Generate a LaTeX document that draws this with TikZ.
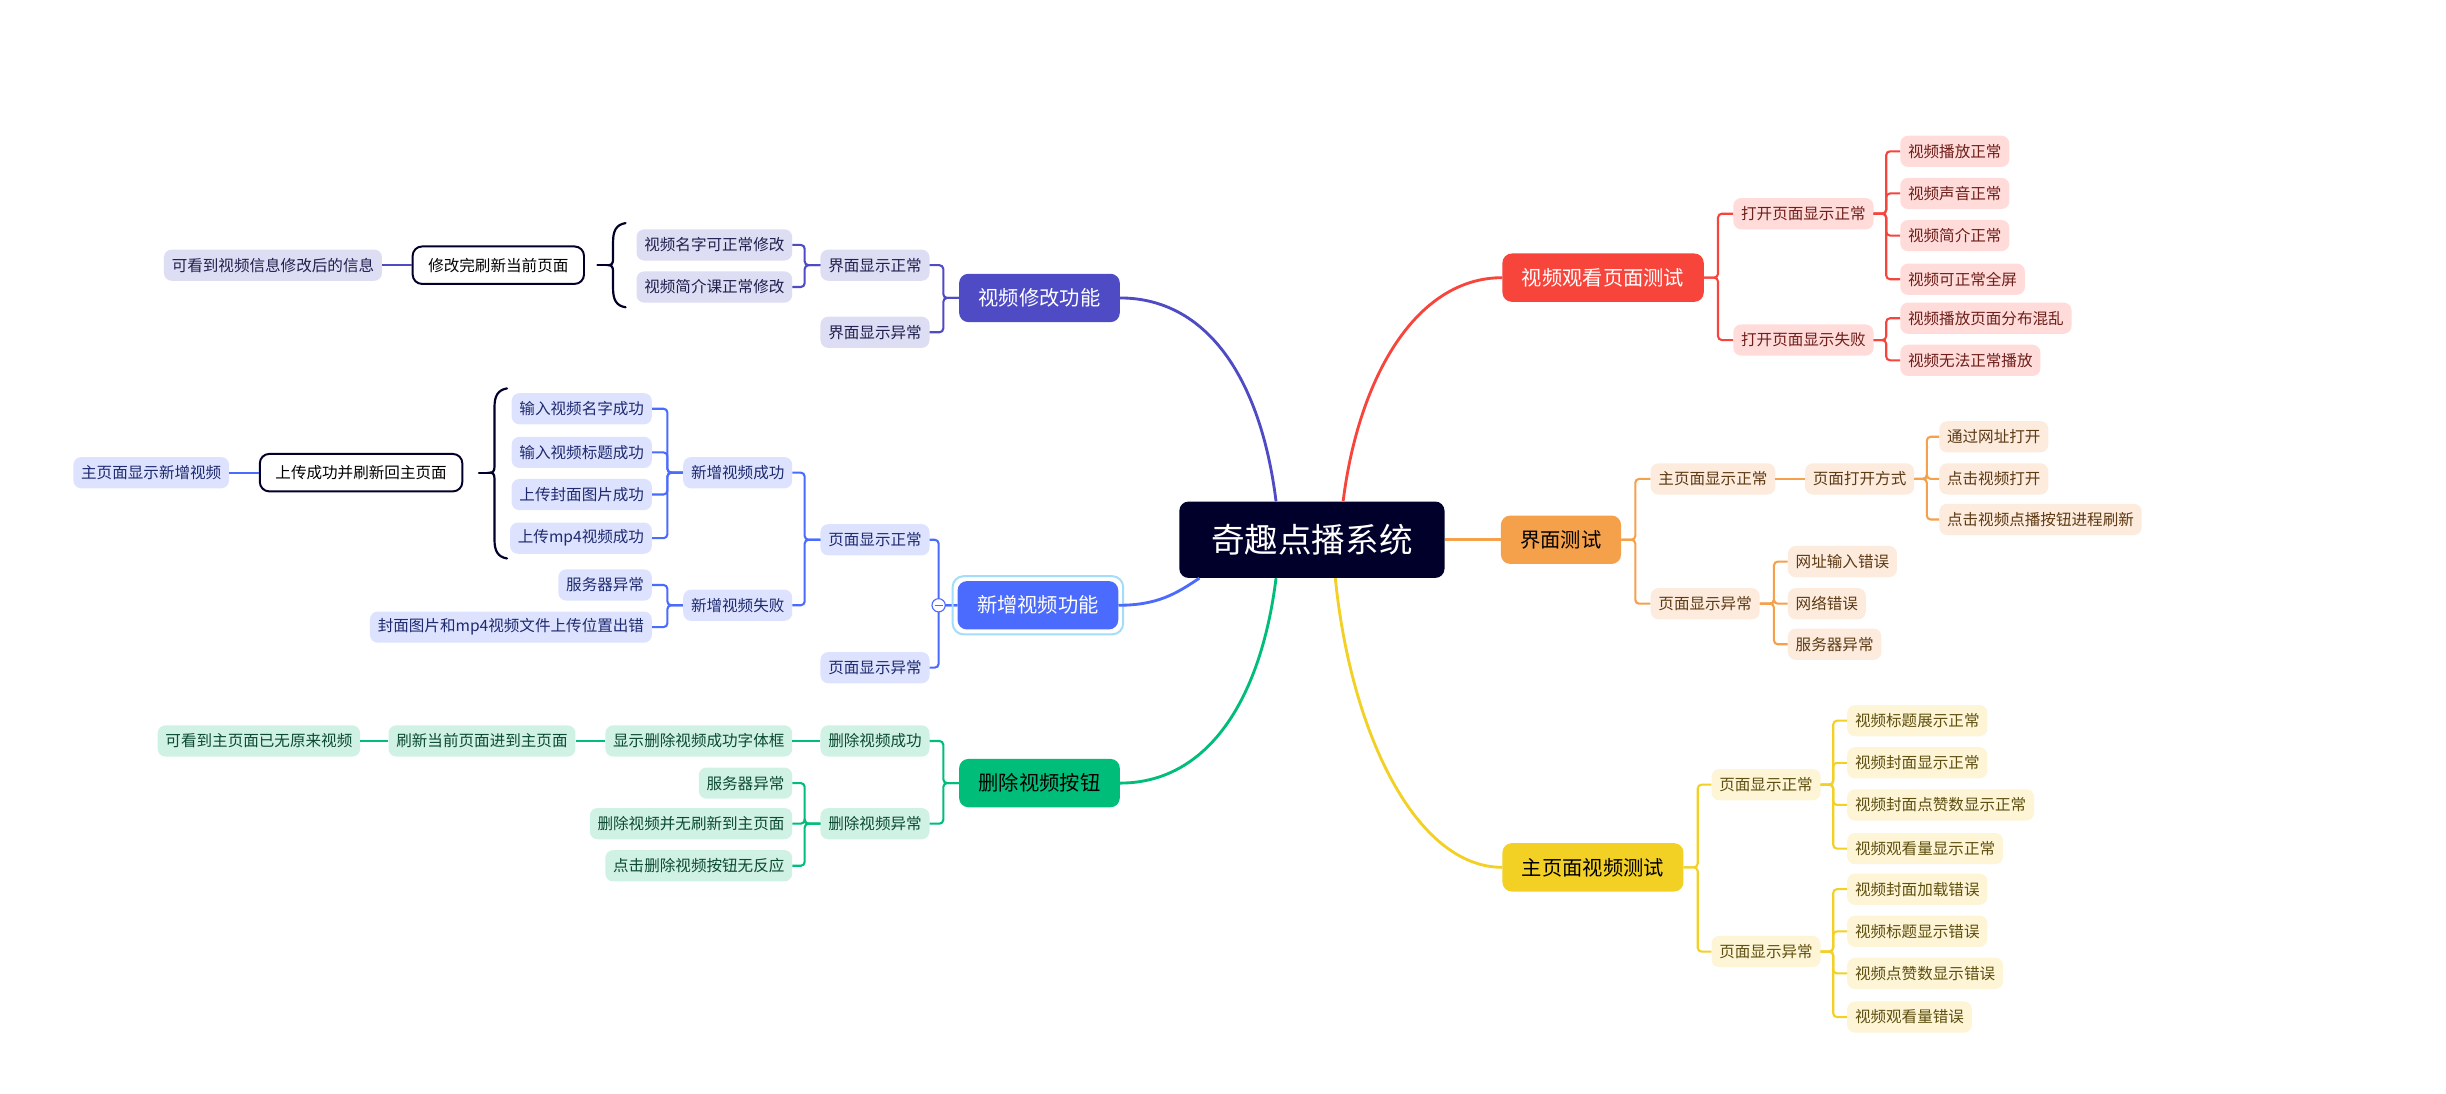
\documentclass[tikz,border=0pt]{standalone}
\usepackage{fontspec}
\newfontfamily\cjk{Noto Sans CJK SC}
\usetikzlibrary{calc}
\definecolor{cRoot}{HTML}{00002A}
\definecolor{cR}{HTML}{F8453C}\definecolor{cRL}{HTML}{FFDBDA}\definecolor{cRT}{HTML}{6E1F1A}
\definecolor{cO}{HTML}{F5A04A}\definecolor{cOL}{HTML}{FDEBDD}\definecolor{cOT}{HTML}{5C3A14}
\definecolor{cY}{HTML}{F2D024}\definecolor{cYL}{HTML}{FDF5D5}\definecolor{cYT}{HTML}{5E4F10}
\definecolor{cP}{HTML}{4E4BC4}\definecolor{cPL}{HTML}{DDDDF3}\definecolor{cPT}{HTML}{20204E}
\definecolor{cB}{HTML}{4B6BFF}\definecolor{cBL}{HTML}{DDE3FF}\definecolor{cBT}{HTML}{1E2A6E}
\definecolor{cG}{HTML}{00BE7A}\definecolor{cGL}{HTML}{CFF2E5}\definecolor{cGT}{HTML}{0C4A32}
\definecolor{cHL}{HTML}{A3DDF9}
\tikzset{
 base/.style={font=\cjk\fontsize{14.2}{17}\selectfont, inner xsep=2.5mm, inner ysep=0pt, minimum height=10mm, rounded corners=2.5mm},
 leaf/.style={base, fill=c#1L, text=c#1T},
 framed/.style={base, fill=white, draw=cRoot, line width=1.8pt, text=black, inner xsep=5mm, minimum height=12mm, rounded corners=3mm},
 br/.style={font=\cjk\fontsize{18.5}{22}\selectfont, inner xsep=6.25mm, inner ysep=0pt, minimum height=15.5mm, rounded corners=3mm, fill=c#1},
 ln/.style={draw=c#1, line width=1.9pt, rounded corners=3.5pt},
 curve/.style={draw=c#1, line width=2.6pt},
 bracestyle/.style={draw=cRoot, line width=2pt, line cap=round},
}
\newcommand\mybrace[4]{%
 \draw[bracestyle] (#1,#2) .. controls (#1-6,#2+1) and (#1-8,#2+5) .. (#1-8,#2+12) -- (#1-8,#4-4) .. controls (#1-8,#4-1) and (#1-9,#4) .. (#1-11,#4) .. controls (#1-9,#4) and (#1-8,#4+1) .. (#1-8,#4+4) -- (#1-8,#3-12) .. controls (#1-8,#3-5) and (#1-6,#3-1) .. (#1,#3);
 \draw[bracestyle] (#1-11,#4) -- (#1-18,#4);
}
\begin{document}
\begin{tikzpicture}[x=0.5mm,y=-0.5mm]
\useasboundingbox[fill=white] (0,0) rectangle (1568,701);

% root
\node[fill=cRoot, text=white, font=\cjk\fontsize{30.6}{34}\selectfont, minimum width=85mm, minimum height=24.5mm, rounded corners=3mm, inner sep=0pt] (root) at (841,346) {奇趣点播系统};

% ===== right: red
\node[br=R, text=white, anchor=west] (rb) at (963,178) {视频观看页面测试};
\node[leaf=R, anchor=west] (r1) at (1111,137) {打开页面显示正常};
\node[leaf=R, anchor=west] (r2) at (1111,218) {打开页面显示失败};
\node[leaf=R, anchor=west] (r11) at (1218,97) {视频播放正常};
\node[leaf=R, anchor=west] (r12) at (1218,124) {视频声音正常};
\node[leaf=R, anchor=west] (r13) at (1218,151) {视频简介正常};
\node[leaf=R, anchor=west] (r14) at (1218,179) {视频可正常全屏};
\node[leaf=R, anchor=west] (r21) at (1218,204) {视频播放页面分布混乱};
\node[leaf=R, anchor=west] (r22) at (1218,231) {视频无法正常播放};
\foreach \c in {r1,r2} \draw[ln=R] (rb.east) -- ++(9,0) |- (\c.west);
\foreach \c in {r11,r12,r13,r14} \draw[ln=R] (r1.east) -- ++(8,0) |- (\c.west);
\foreach \c in {r21,r22} \draw[ln=R] (r2.east) -- ++(8,0) |- (\c.west);

% ===== right: orange
\node[br=O, text=black, anchor=west] (ob) at (962,346) {界面测试};
\node[leaf=O, anchor=west] (o1) at (1058,307) {主页面显示正常};
\node[leaf=O, anchor=west] (o11) at (1157,307) {页面打开方式};
\node[leaf=O, anchor=west] (o111) at (1243,280) {通过网址打开};
\node[leaf=O, anchor=west] (o112) at (1243,307) {点击视频打开};
\node[leaf=O, anchor=west] (o113) at (1243,333) {点击视频点播按钮进程刷新};
\node[leaf=O, anchor=west] (o2) at (1058,387) {页面显示异常};
\node[leaf=O, anchor=west] (o21) at (1146,360) {网址输入错误};
\node[leaf=O, anchor=west] (o22) at (1146,387) {网络错误};
\node[leaf=O, anchor=west] (o23) at (1146,413) {服务器异常};
\foreach \c in {o1,o2} \draw[ln=O] (ob.east) -- ++(9,0) |- (\c.west);
\draw[ln=O] (o1.east) -- (o11.west);
\foreach \c in {o111,o112,o113} \draw[ln=O] (o11.east) -- ++(8,0) |- (\c.west);
\foreach \c in {o21,o22,o23} \draw[ln=O] (o2.east) -- ++(9,0) |- (\c.west);

% ===== right: yellow
\node[br=Y, text=black, anchor=west] (yb) at (963,556) {主页面视频测试};
\node[leaf=Y, anchor=west] (y1) at (1097,503) {页面显示正常};
\node[leaf=Y, anchor=west] (y2) at (1097,610) {页面显示异常};
\node[leaf=Y, anchor=west] (y11) at (1184,462) {视频标题展示正常};
\node[leaf=Y, anchor=west] (y12) at (1184,489) {视频封面显示正常};
\node[leaf=Y, anchor=west] (y13) at (1184,516) {视频封面点赞数显示正常};
\node[leaf=Y, anchor=west] (y14) at (1184,544) {视频观看量显示正常};
\node[leaf=Y, anchor=west] (y21) at (1184,570) {视频封面加载错误};
\node[leaf=Y, anchor=west] (y22) at (1184,597) {视频标题显示错误};
\node[leaf=Y, anchor=west] (y23) at (1184,624) {视频点赞数显示错误};
\node[leaf=Y, anchor=west] (y24) at (1184,652) {视频观看量错误};
\foreach \c in {y1,y2} \draw[ln=Y] (yb.east) -- ++(9,0) |- (\c.west);
\foreach \c in {y11,y12,y13,y14} \draw[ln=Y] (y1.east) -- ++(8,0) |- (\c.west);
\foreach \c in {y21,y22,y23,y24} \draw[ln=Y] (y2.east) -- ++(8,0) |- (\c.west);

% ===== left: purple
\node[br=P, text=white, anchor=east] (pb) at (718,191) {视频修改功能};
\node[leaf=P, anchor=east] (p1) at (596,170) {界面显示正常};
\node[leaf=P, anchor=east] (p2) at (596,213) {界面显示异常};
\node[leaf=P, anchor=east] (p11) at (508,157) {视频名字可正常修改};
\node[leaf=P, anchor=east] (p12) at (508,184) {视频简介课正常修改};
\node[framed, anchor=east] (pf) at (375,170) {修改完刷新当前页面};
\node[leaf=P, anchor=east] (pff) at (245,170) {可看到视频信息修改后的信息};
\foreach \c in {p1,p2} \draw[ln=P] (pb.west) -- ++(-10,0) |- (\c.east);
\foreach \c in {p11,p12} \draw[ln=P] (p1.west) -- ++(-10,0) |- (\c.east);
\draw[ln=P] (pf.west) -- (pff.east);
\mybrace{401}{143}{197}{170}

% ===== left: blue
\node[br=B, text=white, anchor=east] (bb) at (717,388) {新增视频功能};
\node[leaf=B, anchor=east] (b1) at (596,346) {页面显示正常};
\node[leaf=B, anchor=east] (b2) at (596,428) {页面显示异常};
\node[leaf=B, anchor=east] (b11) at (508,303) {新增视频成功};
\node[leaf=B, anchor=east] (b12) at (508,388) {新增视频失败};
\node[leaf=B, anchor=east] (b111) at (418,262) {输入视频名字成功};
\node[leaf=B, anchor=east] (b112) at (418,290) {输入视频标题成功};
\node[leaf=B, anchor=east] (b113) at (418,317) {上传封面图片成功};
\node[leaf=B, anchor=east] (b114) at (418,345) {上传mp4视频成功};
\node[leaf=B, anchor=east] (b121) at (418,375) {服务器异常};
\node[leaf=B, anchor=east] (b122) at (418,402) {封面图片和mp4视频文件上传位置出错};
\node[framed, anchor=east] (bf) at (297,303) {上传成功并刷新回主页面};
\node[leaf=B, anchor=east] (bff) at (147,303) {主页面显示新增视频};
\foreach \c in {b1,b2} \draw[ln=B] (bb.west) -- ++(-12,0) |- (\c.east);
\foreach \c in {b11,b12} \draw[ln=B] (b1.west) -- ++(-10,0) |- (\c.east);
\foreach \c in {b111,b112,b113,b114} \draw[ln=B] (b11.west) -- ++(-10,0) |- (\c.east);
\foreach \c in {b121,b122} \draw[ln=B] (b12.west) -- ++(-10,0) |- (\c.east);
\draw[ln=B] (bf.west) -- (bff.east);
\mybrace{325}{249}{358}{303}
\draw[draw=cHL, line width=1.8pt, rounded corners=3.5mm] ($(bb.south west)+(-3,3)$) rectangle ($(bb.north east)+(3,-3)$);
\node[circle, draw=cB, fill=white, line width=1pt, minimum size=4.25mm, inner sep=0pt] (col) at ($(bb.west)+(-12,0)$) {};
\draw[cB, line width=1pt] ($(col.west)+(2,0)$) -- ($(col.east)+(-2,0)$);

% ===== left: green
\node[br=G, text=black, anchor=east] (gb) at (718,502) {删除视频按钮};
\node[leaf=G, anchor=east] (g1) at (596,475) {删除视频成功};
\node[leaf=G, anchor=east] (g2) at (596,528) {删除视频异常};
\node[leaf=G, anchor=east] (g11) at (508,475) {显示删除视频成功字体框};
\node[leaf=G, anchor=east] (g111) at (369,475) {刷新当前页面进到主页面};
\node[leaf=G, anchor=east] (g1111) at (231,475) {可看到主页面已无原来视频};
\node[leaf=G, anchor=east] (g21) at (508,502) {服务器异常};
\node[leaf=G, anchor=east] (g22) at (508,528) {删除视频并无刷新到主页面};
\node[leaf=G, anchor=east] (g23) at (508,555) {点击删除视频按钮无反应};
\foreach \c in {g1,g2} \draw[ln=G] (gb.west) -- ++(-10,0) |- (\c.east);
\draw[ln=G] (g1.west) -- (g11.east);
\draw[ln=G] (g11.west) -- (g111.east);
\draw[ln=G] (g111.west) -- (g1111.east);
\foreach \c in {g21,g22,g23} \draw[ln=G] (g2.west) -- ++(-10,0) |- (\c.east);

% ===== main curves
\draw[curve=R] ($(root.north)+(20,0)$) .. controls +(10,-80) and +(-55,0) .. (rb.west);
\draw[curve=O] (root.east) -- (ob.west);
\draw[curve=Y] ($(root.south)+(15,0)$) .. controls +(10,100) and +(-55,0) .. (yb.west);
\draw[curve=P] ($(root.north)+(-23,0)$) .. controls +(-10,-80) and +(55,0) .. (pb.east);
\draw[curve=G] ($(root.south)+(-23,0)$) .. controls +(-10,80) and +(55,0) .. (gb.east);
\draw[curve=B] ($(root.south west)+(13,0)$) .. controls +(-15,10) and +(25,0) .. (bb.east);
\end{tikzpicture}
\end{document}
